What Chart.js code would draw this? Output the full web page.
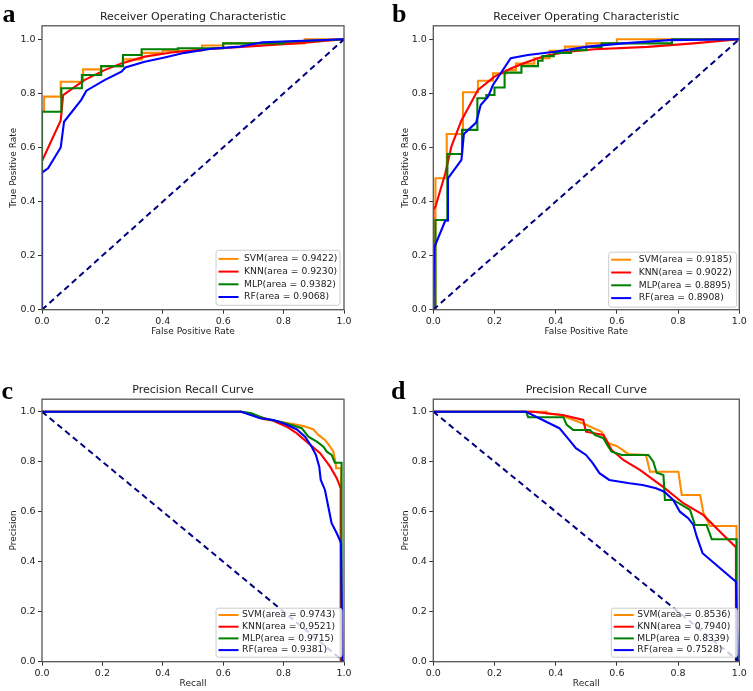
<!DOCTYPE html>
<html><head><meta charset="utf-8">
<script src="https://cdn.jsdelivr.net/npm/chart.js@4.4.0/dist/chart.umd.min.js"></script>
<style>
html,body{margin:0;padding:0;background:#fff;}
#wrap{position:relative;width:753px;height:691px;overflow:hidden;background:#fff;}
canvas{position:absolute;}
</style></head><body>
<div id="wrap">
<canvas id="pa" width="376" height="345" style="left:0px;top:0px;width:376px;height:345px"></canvas>
<canvas id="pb" width="377" height="345" style="left:376px;top:0px;width:377px;height:345px"></canvas>
<canvas id="pc" width="376" height="346" style="left:0px;top:345px;width:376px;height:346px"></canvas>
<canvas id="pd" width="377" height="346" style="left:376px;top:345px;width:377px;height:346px"></canvas>
</div>
<script>
// ---------- data ----------
const seriesNames = ['SVM', 'KNN', 'MLP', 'RF'];
const tickValues = [0, 0.2, 0.4, 0.6, 0.8, 1.0];
const tickLabels = ['0.0', '0.2', '0.4', '0.6', '0.8', '1.0'];

// panel a : ROC  [fpr, tpr]
const aSVM = [[0,0],[0,0.735],[0.007,0.735],[0.007,0.788],[0.062,0.788],[0.062,0.843],[0.136,0.843],[0.136,0.889],[0.196,0.889],[0.196,0.901],[0.268,0.901],[0.268,0.926],[0.33,0.926],[0.33,0.95],[0.40,0.95],[0.40,0.958],[0.53,0.958],[0.53,0.977],[0.60,0.977],[0.60,0.985],[0.87,0.985],[0.87,1.0],[1,1]];
const aKNN = [[0,0],[0,0.55],[0.062,0.70],[0.07,0.794],[0.14,0.849],[0.207,0.886],[0.263,0.911],[0.34,0.936],[0.428,0.951],[0.54,0.963],[0.7,0.975],[0.85,0.986],[1,1]];
const aMLP = [[0,0],[0,0.732],[0.064,0.732],[0.064,0.819],[0.132,0.819],[0.132,0.868],[0.196,0.868],[0.196,0.901],[0.268,0.901],[0.268,0.942],[0.33,0.942],[0.33,0.963],[0.45,0.963],[0.45,0.967],[0.60,0.967],[0.60,0.985],[0.80,0.985],[0.80,0.99],[1,1]];
const aRF  = [[0,0],[0,0.507],[0.02,0.523],[0.062,0.60],[0.073,0.695],[0.13,0.776],[0.147,0.81],[0.207,0.849],[0.263,0.88],[0.276,0.896],[0.34,0.917],[0.406,0.933],[0.472,0.95],[0.56,0.965],[0.656,0.973],[0.73,0.989],[1,1]];
const aAreas = ['0.9422', '0.9230', '0.9382', '0.9068'];

// panel b : ROC  [fpr, tpr]
const bSVM = [[0,0],[0,0.02],[0.007,0.02],[0.007,0.486],[0.044,0.486],[0.044,0.65],[0.097,0.65],[0.097,0.804],[0.146,0.804],[0.146,0.847],[0.195,0.847],[0.195,0.874],[0.239,0.874],[0.239,0.886],[0.27,0.886],[0.27,0.91],[0.33,0.91],[0.33,0.93],[0.38,0.93],[0.38,0.958],[0.43,0.958],[0.43,0.973],[0.5,0.973],[0.5,0.985],[0.6,0.985],[0.6,1.0],[1,1]];
const bKNN = [[0,0],[0,0.37],[0.007,0.381],[0.039,0.504],[0.059,0.603],[0.092,0.70],[0.146,0.813],[0.2,0.862],[0.255,0.893],[0.309,0.917],[0.364,0.938],[0.44,0.954],[0.527,0.963],[0.7,0.972],[0.85,0.985],[1,1]];
const bMLP = [[0,0],[0.007,0],[0.007,0.332],[0.046,0.332],[0.046,0.576],[0.094,0.576],[0.094,0.665],[0.144,0.665],[0.144,0.782],[0.173,0.782],[0.173,0.794],[0.2,0.794],[0.2,0.822],[0.233,0.822],[0.233,0.877],[0.288,0.877],[0.288,0.901],[0.342,0.901],[0.342,0.921],[0.357,0.921],[0.357,0.938],[0.394,0.938],[0.394,0.95],[0.45,0.95],[0.45,0.96],[0.5,0.96],[0.5,0.972],[0.55,0.972],[0.55,0.985],[0.78,0.985],[0.78,1],[1,1]];
const bRF  = [[0,0],[0.003,0.23],[0.039,0.329],[0.048,0.33],[0.048,0.486],[0.092,0.554],[0.1,0.65],[0.14,0.692],[0.155,0.757],[0.179,0.788],[0.195,0.831],[0.253,0.93],[0.309,0.942],[0.397,0.954],[0.506,0.973],[0.62,0.985],[0.77,0.997],[1,1]];
const bAreas = ['0.9185', '0.9022', '0.8895', '0.8908'];

// panel c : PR  [recall, precision]
const cSVM = [[0,1],[0.66,1],[0.689,0.994],[0.733,0.97],[0.788,0.96],[0.832,0.951],[0.865,0.943],[0.898,0.93],[0.915,0.907],[0.937,0.887],[0.954,0.86],[0.965,0.84],[0.974,0.78],[0.974,0.774],[0.99,0.774],[0.99,0]];
const cKNN = [[0,1],[0.66,1],[0.711,0.983],[0.766,0.964],[0.81,0.94],[0.843,0.914],[0.882,0.874],[0.921,0.834],[0.954,0.78],[0.976,0.734],[0.989,0.694],[0.989,0]];
const cMLP = [[0,1],[0.66,1],[0.694,0.994],[0.733,0.974],[0.788,0.96],[0.827,0.947],[0.86,0.934],[0.882,0.90],[0.91,0.88],[0.932,0.86],[0.943,0.84],[0.959,0.827],[0.97,0.796],[0.992,0.796],[0.992,0]];
const cRF  = [[0,1],[0.66,1],[0.722,0.974],[0.766,0.967],[0.799,0.954],[0.843,0.93],[0.871,0.90],[0.893,0.86],[0.907,0.827],[0.918,0.78],[0.923,0.727],[0.937,0.687],[0.948,0.62],[0.959,0.554],[0.976,0.514],[0.99,0.476],[0.995,0]];
const cAreas = ['0.9743', '0.9521', '0.9715', '0.9381'];

// panel d : PR  [recall, precision]
const dSVM = [[0,1],[0.303,1],[0.37,1.0],[0.37,0.993],[0.414,0.987],[0.474,0.96],[0.501,0.947],[0.55,0.92],[0.572,0.874],[0.599,0.863],[0.637,0.831],[0.695,0.827],[0.708,0.76],[0.801,0.76],[0.812,0.667],[0.872,0.667],[0.883,0.594],[0.904,0.543],[0.991,0.543],[0.991,0]];
const dKNN = [[0,1],[0.325,1],[0.423,0.987],[0.49,0.967],[0.499,0.92],[0.556,0.907],[0.583,0.847],[0.621,0.807],[0.675,0.767],[0.752,0.698],[0.817,0.634],[0.882,0.587],[0.937,0.52],[0.989,0.458],[0.989,0]];
const dMLP = [[0,1],[0.303,1],[0.31,0.978],[0.425,0.978],[0.436,0.947],[0.457,0.927],[0.512,0.927],[0.528,0.907],[0.556,0.894],[0.572,0.86],[0.583,0.84],[0.616,0.827],[0.703,0.827],[0.719,0.80],[0.73,0.756],[0.752,0.747],[0.757,0.647],[0.784,0.647],[0.817,0.623],[0.839,0.607],[0.855,0.547],[0.893,0.547],[0.91,0.49],[0.991,0.49],[0.991,0]];
const dRF  = [[0,1],[0.303,1],[0.336,0.98],[0.379,0.954],[0.412,0.934],[0.444,0.887],[0.466,0.854],[0.499,0.827],[0.521,0.794],[0.543,0.754],[0.575,0.727],[0.641,0.714],[0.684,0.707],[0.728,0.694],[0.755,0.68],[0.784,0.647],[0.806,0.60],[0.833,0.574],[0.85,0.547],[0.861,0.50],[0.88,0.434],[0.989,0.32],[0.995,0]];
const dAreas = ['0.8536', '0.7940', '0.8339', '0.7528'];

const rocDiagonal = [[0,0],[1,1]];
const prDiagonal = [[0,1],[1,0]];

// ---------- styles ----------
const COLORS = ['#ff8c00', '#ff0000', '#008000', '#0000ff'];
const DIAG_COLOR = '#000080';
const FONT = '"DejaVu Sans", Verdana, sans-serif';
const TXT = '#222';

function drawRounded(ctx, x, y, w, h, r) {
  ctx.beginPath();
  ctx.moveTo(x + r, y);
  ctx.lineTo(x + w - r, y);
  ctx.arcTo(x + w, y, x + w, y + r, r);
  ctx.lineTo(x + w, y + h - r);
  ctx.arcTo(x + w, y + h, x + w - r, y + h, r);
  ctx.lineTo(x + r, y + h);
  ctx.arcTo(x, y + h, x, y + h - r, r);
  ctx.lineTo(x, y + r);
  ctx.arcTo(x, y, x + r, y, r);
  ctx.closePath();
}

function makePanel(p) {
  const canvas = document.getElementById(p.id);
  const W = canvas.width, H = canvas.height;
  const datasets = p.series.map((pts, i) => ({
    label: seriesNames[i],
    data: pts.map(q => ({x: q[0], y: q[1]})),
    borderColor: COLORS[i], backgroundColor: COLORS[i],
    borderWidth: 2.1, pointRadius: 0, showLine: true, tension: 0, fill: false,
    order: 5 - i
  }));
  datasets.push({
    label: 'diag',
    data: p.diag.map(q => ({x: q[0], y: q[1]})),
    borderColor: DIAG_COLOR, borderWidth: 2, borderDash: [6, 4],
    pointRadius: 0, showLine: true, tension: 0, fill: false, order: 0
  });
  const tickCb = (v) => { const k = tickValues.findIndex(t => Math.abs(t - v) < 1e-9); return k >= 0 ? tickLabels[k] : ''; };
  const scaleCommon = {
    type: 'linear', min: 0,
    afterBuildTicks: s => { s.ticks = tickValues.map(v => ({value: v})); },
    ticks: {callback: tickCb, font: {family: FONT, size: 9.5}, color: TXT, padding: 2.5, maxRotation: 0, autoSkip: false},
    grid: {display: true, drawOnChartArea: false, drawTicks: true, tickLength: 4, color: '#333', tickWidth: 1},
    border: {display: false}
  };
  const decor = {
    id: 'decor',
    afterDatasetsDraw(chart) {
      const ctx = chart.ctx, a = chart.chartArea;
      ctx.save();
      ctx.strokeStyle = '#555'; ctx.lineWidth = 1.3;
      ctx.strokeRect(a.left, a.top, a.right - a.left, a.bottom - a.top);
      // legend
      const L = p.legend;
      const bx = a.right - L.w - L.rm, by = a.bottom - L.h - L.bm;
      ctx.fillStyle = 'rgba(255,255,255,0.8)';
      drawRounded(ctx, bx, by, L.w, L.h, 2.5);
      ctx.fill();
      ctx.strokeStyle = '#cccccc'; ctx.lineWidth = 1;
      ctx.stroke();
      ctx.font = '9.2px ' + FONT;
      ctx.textBaseline = 'middle'; ctx.textAlign = 'left';
      for (let i = 0; i < 4; i++) {
        const yy = by + L.first + i * L.row;
        ctx.strokeStyle = COLORS[i]; ctx.lineWidth = 2;
        ctx.beginPath(); ctx.moveTo(bx + 2.5, yy); ctx.lineTo(bx + 22.5, yy); ctx.stroke();
        ctx.fillStyle = TXT;
        ctx.fillText(seriesNames[i] + '(area = ' + p.areas[i] + ')', bx + L.tx, yy);
      }
      ctx.restore();
    },
    afterDraw(chart) {
      const ctx = chart.ctx, a = chart.chartArea;
      ctx.save();
      ctx.fillStyle = TXT;
      ctx.textAlign = 'center'; ctx.textBaseline = 'middle';
      ctx.font = '11px ' + FONT;
      ctx.fillText(p.title, (a.left + a.right) / 2, a.top - 9);
      ctx.font = '9px ' + FONT;
      ctx.fillText(p.xLabel, (a.left + a.right) / 2, a.bottom + 21.5);
      ctx.save();
      ctx.translate(a.left - 28, (a.top + a.bottom) / 2);
      ctx.rotate(-Math.PI / 2);
      ctx.fillText(p.yLabel, 0, 0);
      ctx.restore();
      ctx.fillStyle = '#000';
      ctx.textAlign = 'left'; ctx.textBaseline = 'alphabetic';
      ctx.font = 'bold 26px "Liberation Serif", "Times New Roman", serif';
      ctx.fillText(p.letter, p.letterX, p.letterY);
      ctx.restore();
    }
  };
  new Chart(canvas, {
    type: 'scatter',
    data: {datasets},
    options: {
      responsive: false, animation: false, events: [],
      layout: {padding: {left: 0, top: p.box.t, right: W - p.box.r, bottom: 0}},
      plugins: {legend: {display: false}, title: {display: false}, tooltip: {enabled: false}},
      scales: {
        x: Object.assign({}, scaleCommon, {max: 1, position: 'bottom', afterFit: s => { s.height = H - p.box.b; }}),
        y: Object.assign({}, scaleCommon, {max: 1.05, position: 'left', afterFit: s => { s.width = p.box.l; }})
      }
    },
    plugins: [decor]
  });
}

const legendA = {w: 124, h: 55, rm: 4, bm: 4.4, first: 8.6, row: 12.7, tx: 28};
const legendB = {w: 128, h: 55, rm: 2.6, bm: 2.5, first: 7.5, row: 12.8, tx: 30};
const legendBottom = {w: 126, h: 49, rm: 2, bm: 4.5, first: 6.8, row: 11.7, tx: 26};

makePanel({id: 'pa', letter: 'a', letterX: 2.5, letterY: 21.5, title: 'Receiver Operating Characteristic',
  xLabel: 'False Positive Rate', yLabel: 'True Positive Rate',
  series: [aSVM, aKNN, aMLP, aRF], areas: aAreas, diag: rocDiagonal,
  box: {l: 42, r: 344, t: 25.8, b: 309.7}, legend: legendA});
makePanel({id: 'pb', letter: 'b', letterX: 16, letterY: 21.5, title: 'Receiver Operating Characteristic',
  xLabel: 'False Positive Rate', yLabel: 'True Positive Rate',
  series: [bSVM, bKNN, bMLP, bRF], areas: bAreas, diag: rocDiagonal,
  box: {l: 57.3, r: 363.3, t: 25.8, b: 309.7}, legend: legendB});
makePanel({id: 'pc', letter: 'c', letterX: 1.5, letterY: 54, title: 'Precision Recall Curve',
  xLabel: 'Recall', yLabel: 'Precision',
  series: [cSVM, cKNN, cMLP, cRF], areas: cAreas, diag: prDiagonal,
  box: {l: 42, r: 344, t: 54.2, b: 316.7}, legend: legendBottom});
makePanel({id: 'pd', letter: 'd', letterX: 15, letterY: 54, title: 'Precision Recall Curve',
  xLabel: 'Recall', yLabel: 'Precision',
  series: [dSVM, dKNN, dMLP, dRF], areas: dAreas, diag: prDiagonal,
  box: {l: 57.3, r: 363.3, t: 54.2, b: 316.7}, legend: legendBottom});
</script>
</body></html>
